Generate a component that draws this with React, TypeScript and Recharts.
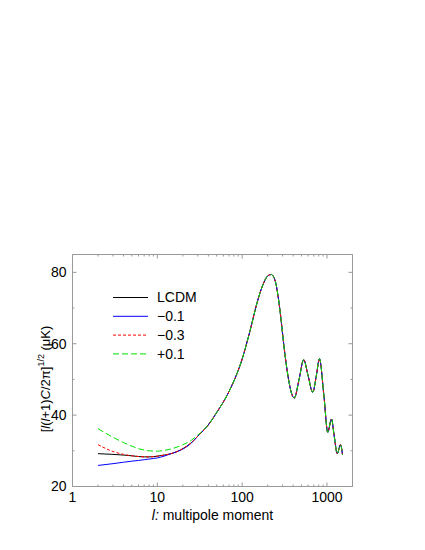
import { LineChart, Line, XAxis, YAxis, Legend } from "recharts"

const ELL_LOW = [2, 3, 4, 5, 6, 7, 8, 10, 12, 15, 20, 25, 30]
const ELL_HIGH = [
  40, 50, 70, 100, 125, 150, 175, 200, 220, 246, 269, 290, 308, 330, 353, 380, 412,
  470, 531, 600, 679, 750, 815, 920, 1022, 1130, 1220, 1321, 1445, 1525,
]

// low-l part differs per model (muK)
const LCDM_LOW = [29.2, 29.0, 28.8, 28.6, 28.4, 28.3, 28.3, 28.5, 28.8, 29.3, 30.6, 32.2, 34.1]
const M01_LOW = [25.9, 26.4, 26.8, 27.1, 27.3, 27.5, 27.7, 28.0, 28.5, 29.3, 30.5, 32.1, 34.1]
const M03_LOW = [31.7, 29.8, 29.0, 28.6, 28.4, 28.3, 28.3, 28.5, 28.8, 29.3, 30.6, 32.2, 34.1]
const P01_LOW = [36.2, 33.8, 32.3, 31.3, 30.6, 30.2, 30.0, 29.9, 30.1, 30.6, 31.7, 32.9, 34.4]

// acoustic peaks: all four models lie on top of each other here
const SHARED_HIGH = [
  37.3, 40.7, 46.6, 55.7, 64.0, 71.5, 76.4, 79.0, 79.4, 77.5, 72.3, 66.0, 60.2, 54.5, 49.9, 46.3, 44.8,
  50.1, 55.5, 51.0, 46.4, 51.1, 55.8, 45.5, 35.2, 38.9, 34.0, 29.2, 31.7, 28.9,
]

const X_TICKS = [
  1, 2, 3, 4, 5, 6, 7, 8, 9, 10, 20, 30, 40, 50, 60, 70, 80, 90,
  100, 200, 300, 400, 500, 600, 700, 800, 900, 1000, 2000,
]
const X_MAJOR = [1, 10, 100, 1000]
const Y_TICKS = [20, 30, 40, 50, 60, 70, 80]
const Y_MAJOR = [20, 40, 60, 80]

const SERIES = [
  { key: "lcdm", name: "LCDM", low: LCDM_LOW, color: "#000000", dash: undefined },
  { key: "m01", name: "\u22120.1", low: M01_LOW, color: "#0000ff", dash: undefined },
  { key: "m03", name: "\u22120.3", low: M03_LOW, color: "#ff0000", dash: "3 2" },
  { key: "p01", name: "+0.1", low: P01_LOW, color: "#00e000", dash: "6 3" },
]

const ELL = [...ELL_LOW, ...ELL_HIGH]
const data = ELL.map((l, i) => {
  const row: Record<string, number> = { l }
  SERIES.forEach((s) => {
    row[s.key] = i < ELL_LOW.length ? s.low[i] : SHARED_HIGH[i - ELL_LOW.length]
  })
  return row
})

const FRAME = "#999999"
const FONT = "'Liberation Sans', Arial, Helvetica, sans-serif"

const BottomTick = (p: any) => {
  const major = X_MAJOR.includes(p.payload.value)
  return (
    <g>
      <line x1={p.x} x2={p.x} y1={p.y} y2={p.y - (major ? 4 : 2)} stroke={FRAME} />
      {major && (
        <text x={p.x} y={p.y + 15} textAnchor="middle" fontSize={14} fill="#000">
          {p.payload.value}
        </text>
      )}
    </g>
  )
}

const TopTick = (p: any) => {
  const major = X_MAJOR.includes(p.payload.value)
  return <line x1={p.x} x2={p.x} y1={p.y} y2={p.y + (major ? 4 : 2)} stroke={FRAME} />
}

const LeftTick = (p: any) => {
  const major = Y_MAJOR.includes(p.payload.value)
  return (
    <g>
      <line x1={p.x} x2={p.x + (major ? 4 : 2)} y1={p.y} y2={p.y} stroke={FRAME} />
      {major && (
        <text x={p.x - 6} y={p.y} dy="0.35em" textAnchor="end" fontSize={14} fill="#000">
          {p.payload.value}
        </text>
      )}
    </g>
  )
}

const RightTick = (p: any) => {
  const major = Y_MAJOR.includes(p.payload.value)
  return <line x1={p.x} x2={p.x - (major ? 4 : 2)} y1={p.y} y2={p.y} stroke={FRAME} />
}

const yLabel = () => (
  <text transform="translate(50,379) rotate(-90)" textAnchor="middle" fontSize={13} fill="#000">
    [<tspan fontStyle="italic">l</tspan>(<tspan fontStyle="italic">l</tspan>+1)<tspan fontStyle="italic">C</tspan>/2π]<tspan dy={-6} fontSize={9}>1/2</tspan><tspan dy={6}>{" (μK)"}</tspan>
  </text>
)

const xLabel = () => (
  <text x={212.5} y={520} textAnchor="middle" fontSize={14} fill="#000">
    <tspan fontStyle="italic">l:</tspan>{" multipole moment"}
  </text>
)

const LegendBox = () => (
  <svg width={120} height={80} style={{ overflow: "visible" }}>
    {SERIES.map((s, i) => {
      const y = 10.5 + i * 18.8
      return (
        <g key={s.key}>
          <line x1={8} x2={43} y1={y} y2={y} stroke={s.color} strokeDasharray={s.dash} />
          <text x={52} y={y} dy="0.35em" fontSize={14} fill="#000" fontFamily={FONT}>
            {s.name}
          </text>
        </g>
      )
    })}
  </svg>
)

export default function App() {
  return (
    <div style={{ position: "absolute", left: 0, top: 0, width: 425, height: 550, background: "#fff", fontFamily: FONT }}>
      <LineChart
        width={425}
        height={550}
        data={data}
        margin={{ top: 244.5, right: 62.5, bottom: 33.5, left: 42.5 }}
        style={{ fontFamily: FONT }}
      >
        <XAxis
          dataKey="l"
          type="number"
          scale="log"
          domain={[1, 2000]}
          allowDataOverflow
          ticks={X_TICKS}
          interval={0}
          height={30}
          tickSize={0}
          tickMargin={0}
          tickLine={false}
          axisLine={{ stroke: FRAME }}
          tick={BottomTick}
          label={xLabel}
        />
        <XAxis
          xAxisId="top"
          orientation="top"
          dataKey="l"
          type="number"
          scale="log"
          domain={[1, 2000]}
          allowDataOverflow
          ticks={X_TICKS}
          interval={0}
          height={10}
          tickSize={0}
          tickMargin={0}
          tickLine={false}
          axisLine={{ stroke: FRAME }}
          tick={TopTick}
        />
        <YAxis
          type="number"
          domain={[20, 85]}
          allowDataOverflow
          ticks={Y_TICKS}
          interval={0}
          width={30}
          tickSize={0}
          tickMargin={0}
          tickLine={false}
          axisLine={{ stroke: FRAME }}
          tick={LeftTick}
          label={yLabel}
        />
        <YAxis
          yAxisId="right"
          orientation="right"
          type="number"
          domain={[20, 85]}
          allowDataOverflow
          ticks={Y_TICKS}
          interval={0}
          width={10}
          tickSize={0}
          tickMargin={0}
          tickLine={false}
          axisLine={{ stroke: FRAME }}
          tick={RightTick}
        />
        <Legend
          layout="vertical"
          align="center"
          verticalAlign="middle"
          content={LegendBox}
          wrapperStyle={{ position: "absolute", left: 105, top: 287, width: 120, height: 80 }}
        />
        {SERIES.map((s) => (
          <Line
            key={s.key}
            dataKey={s.key}
            name={s.name}
            type="monotone"
            stroke={s.color}
            strokeWidth={1}
            strokeDasharray={s.dash}
            dot={false}
            activeDot={false}
            isAnimationActive={false}
          />
        ))}
      </LineChart>
    </div>
  )
}
